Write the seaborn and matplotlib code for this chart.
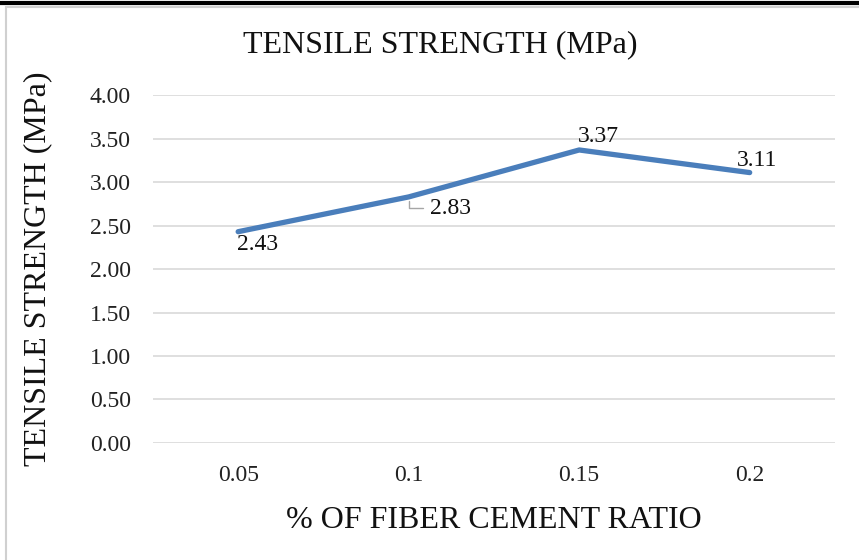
import matplotlib
matplotlib.use("Agg")
import matplotlib.pyplot as plt
import seaborn as sns
import pandas as pd
from matplotlib.lines import Line2D
from matplotlib.patches import Rectangle

categories = ["0.05", "0.1", "0.15", "0.2"]
values = [2.43, 2.83, 3.37, 3.11]
yticks = [0.0, 0.5, 1.0, 1.5, 2.0, 2.5, 3.0, 3.5, 4.0]

sns.set_theme(style="white")
plt.rcParams['font.family'] = ['Liberation Serif', 'DejaVu Serif']

df = pd.DataFrame({"ratio": categories, "strength": values})

fig = plt.figure(figsize=(8.59, 5.60), dpi=100)
ax = fig.add_axes([0.178, 0.209, 0.794, 0.621])

sns.lineplot(data=df, x="ratio", y="strength", ax=ax, color="#4A7EBB",
             linewidth=3.8, sort=False, solid_capstyle="round")

ax.set_xlim(-0.5, 3.5)
ax.set_ylim(0, 4.0)
ax.set_yticks(yticks)
ax.set_yticklabels([f"{v:.2f}" for v in yticks], fontsize=17, color="#222222")
ax.tick_params(axis="x", labelsize=17, colors="#222222", length=0, pad=16)
ax.tick_params(axis="y", length=0, pad=16)
ax.grid(axis="y", color="#d9d9d9", linewidth=1.2)
ax.set_axisbelow(True)
for s in ax.spines.values():
    s.set_visible(False)

ax.set_xlabel("% OF FIBER CEMENT RATIO", fontsize=23, color="#111111", labelpad=14)
ax.set_ylabel("TENSILE STRENGTH (MPa)", fontsize=23, color="#111111")
ax.yaxis.set_label_coords(-0.147, 0.5)
fig.text(0.512, 0.92, "TENSILE STRENGTH (MPa)", fontsize=23, color="#111111",
         ha="center", va="center")

# data labels
offsets = [(14, -9), (15, -8), (14, 10), (5, 9)]
for i, (c, v) in enumerate(zip(categories, values)):
    dx, dy = offsets[i]
    if i == 1:
        ax.annotate(f"{v:.2f}", xy=(i, v), xytext=(dx, dy), textcoords="offset points",
                    fontsize=17, color="#111111", ha="left", va="center",
                    arrowprops=dict(arrowstyle="-", color="#a6a6a6", lw=1,
                                    connectionstyle="angle,angleA=0,angleB=90,rad=0",
                                    shrinkA=2, shrinkB=3))
    else:
        ax.annotate(f"{v:.2f}", xy=(i, v), xytext=(dx, dy), textcoords="offset points",
                    fontsize=17, color="#111111", ha="center", va="center")

# frame decorations
fig.add_artist(Rectangle((0.007, -0.01), 1.0, 0.997, transform=fig.transFigure,
                         fill=False, edgecolor="#d0d0d0", linewidth=1.5))
fig.add_artist(Line2D([0, 1], [0.994, 0.994], transform=fig.transFigure,
                      color="black", linewidth=3))

fig.savefig("out.png", dpi=100)
